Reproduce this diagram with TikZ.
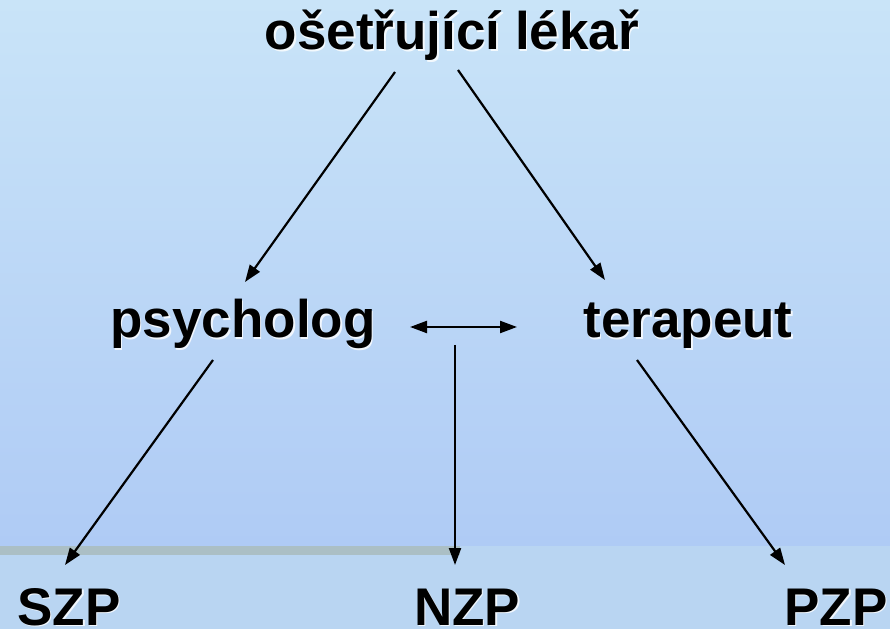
\documentclass[tikz,border=0pt]{standalone}
\usepackage{fontspec}
\setmainfont{Liberation Sans}
\usetikzlibrary{arrows.meta}

\definecolor{bgtop}{HTML}{C9E4F8}
\definecolor{bgbottom}{HTML}{AFCBF5}
\definecolor{bgband}{HTML}{B9D5F2}
\definecolor{bgstrip}{HTML}{ABBFC5}

\tikzset{
  lbl/.style={anchor=base, inner sep=0pt, font=\fontsize{53}{60}\selectfont\bfseries},
  lblshadow/.style={lbl, text=white, opacity=0.8},
  conn/.style={-{Triangle[length=17pt,width=12pt]}, line width=2.2pt},
  biconn/.style={{Triangle[length=17pt,width=12pt]}-{Triangle[length=17pt,width=12pt]}, line width=2.2pt},
}

% text with a light shadow
\newcommand{\lbl}[3]{%
  \node[lblshadow] at ([shift={(1.5,-1.5)}]#2) {#3};
  \node[lbl] (#1) at (#2) {#3};
}

\begin{document}
\begin{tikzpicture}[x=1pt, y=1pt]
  % background
  \useasboundingbox (0,0) rectangle (890,629);
  \shade[top color=bgtop, bottom color=bgbottom, draw=none] (0,83) rectangle (890,629);
  \fill[bgband] (0,0) rectangle (890,83);
  \fill[bgstrip] (0,74) rectangle (460,83);

  \lbl{lekar}{452,579}{ošetřující lékař}
  \lbl{psych}{243,291}{psycholog}
  \lbl{terap}{688,291}{terapeut}
  \lbl{szp}{69,4}{SZP}
  \lbl{nzp}{467,4}{NZP}
  \lbl{pzp}{836,4}{PZP}

  \coordinate (mid) at ([shift={(212,-7)}]psych.base);

  \draw[conn] ([shift={(-57,-22)}]lekar.base) -- ([shift={(2,56)}]psych.base);
  \draw[conn] ([shift={(6,-20)}]lekar.base) -- ([shift={(-83,58)}]terap.base);
  \draw[biconn] ([shift={(167,11)}]psych.base) -- ([shift={(-171,11)}]terap.base);
  \draw[conn] (mid) -- ([shift={(-12,60)}]nzp.base);
  \draw[conn] ([shift={(-30,-22)}]psych.base) -- ([shift={(-4,60)}]szp.base);
  \draw[conn] ([shift={(-51,-22)}]terap.base) -- ([shift={(-51,60)}]pzp.base);
\end{tikzpicture}
\end{document}
